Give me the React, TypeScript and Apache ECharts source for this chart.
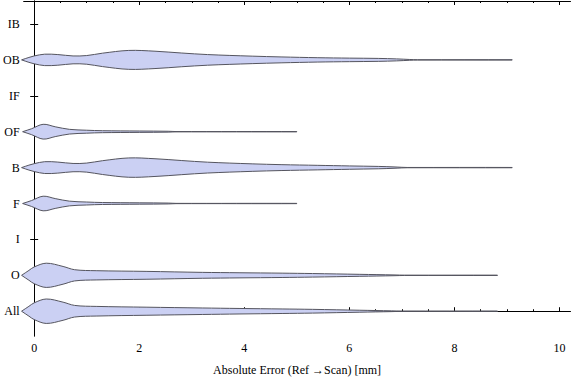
import React, { useEffect, useRef } from "react";
import * as echarts from "echarts";

// Categories bottom to top
const categories = ["All", "O", "I", "F", "B", "OF", "IF", "OB", "IB"];

// Violin profiles: error positions [mm] and estimated half-width densities (relative)
const allX = [-0.24, -0.1, 0.0, 0.23, 0.55, 0.77, 1.18, 2.13, 3.2, 3.9, 4.72, 5.3, 6.2, 6.8, 6.98, 8.82];
const allD = [0, 5, 8.5, 12.4, 9.2, 5.9, 4.9, 4.1, 3.3, 2.8, 2.3, 1.9, 1.0, 0.4, 0.15, 0.15];

const oX = [-0.24, -0.1, 0.0, 0.23, 0.55, 0.77, 1.18, 2.13, 3.2, 3.9, 4.72, 5.3, 6.2, 6.85, 7.05, 8.82];
const oD = [0, 5, 8.5, 12.3, 9.0, 5.7, 4.7, 4.0, 3.0, 2.6, 2.2, 1.8, 1.0, 0.4, 0.15, 0.15];

const fX = [-0.22, -0.05, 0.17, 0.4, 0.67, 1.0, 1.3, 2.0, 2.55, 2.7, 5.0];
const fD = [0, 3, 7.4, 5, 2.4, 1.5, 1.0, 0.7, 0.45, 0.15, 0.15];

const bX = [-0.24, -0.1, 0, 0.2, 0.45, 0.74, 1.0, 1.3, 1.8, 2.3, 2.8, 3.3, 4.15, 4.7, 5.4, 6.0, 6.55, 6.85, 7.0, 7.1, 9.1];
const bD = [0, 2.5, 4, 6, 5.6, 4.2, 4.6, 7, 9.8, 9, 7.2, 5.5, 3.8, 3.0, 2.3, 1.7, 1.2, 0.7, 0.3, 0.15, 0.15];

const ofX = [-0.22, -0.05, 0.17, 0.4, 0.67, 1.0, 1.3, 2.0, 2.55, 2.7, 5.0];
const ofD = [0, 3, 7.5, 5, 2.4, 1.5, 1.0, 0.7, 0.45, 0.15, 0.15];

const obX = [-0.24, -0.1, 0.0, 0.2, 0.45, 0.74, 1.0, 1.3, 1.8, 2.3, 2.8, 3.3, 4.15, 4.7, 5.4, 6.0, 6.55, 6.9, 7.15, 7.3, 9.1];
const obD = [0, 2.5, 4, 5.8, 5.4, 4.0, 4.4, 6.8, 9.6, 8.8, 7.0, 5.4, 3.8, 3.0, 2.2, 1.8, 1.5, 1.0, 0.4, 0.15, 0.15];

const profiles: Record<string, { x: number[]; d: number[] } | null> = {
  All: { x: allX, d: allD },
  O: { x: oX, d: oD },
  I: null,
  F: { x: fX, d: fD },
  B: { x: bX, d: bD },
  OF: { x: ofX, d: ofD },
  IF: null,
  OB: { x: obX, d: obD },
  IB: null,
};

const xMajorTicks = [0, 2, 4, 6, 8, 10];
const xMinorTicks = [0.5, 1, 1.5, 2.5, 3, 3.5, 4.5, 5, 5.5, 6.5, 7, 7.5, 8.5, 9, 9.5];

const FONT = "'Liberation Serif', 'Times New Roman', 'DejaVu Serif', serif";
const DENSITY_SCALE = 1 / 36.45; // density units -> category units

export default function App() {
  const ref = useRef<HTMLDivElement>(null);
  useEffect(() => {
    if (!ref.current) return;
    const chart = echarts.init(ref.current, null, { renderer: "svg" });
    const catIdx = categories.map((_, i) => i);
    const xMin = -0.2;
    const xMax = 10.21;
    const yMin = -0.69;
    const yMax = 8.64;
    const axisLineStyle = { color: "#000", width: 1 };
    const baseX = {
      type: "value" as const,
      min: xMin,
      max: xMax,
      splitLine: { show: false },
    };
    const baseY = {
      type: "value" as const,
      min: yMin,
      max: yMax,
      splitLine: { show: false },
    };
    const option: any = {
      animation: false,
      grid: { left: 20.5, top: 1, width: 550, height: 340, containLabel: false },
      xAxis: [
        {
          ...baseX,
          position: "bottom",
          axisLine: { show: true, lineStyle: axisLineStyle },
          axisTick: { show: true, inside: true, length: 4, customValues: xMajorTicks, lineStyle: axisLineStyle },
          axisLabel: {
            show: true,
            customValues: xMajorTicks,
            color: "#000",
            fontFamily: FONT,
            fontSize: 12,
            margin: 6,
          },
          name: "Absolute Error (Ref \u2192Scan) [mm]",
          nameLocation: "middle",
          nameGap: 28,
          nameTextStyle: { color: "#000", fontFamily: FONT, fontSize: 12 },
        },
        {
          ...baseX,
          position: "bottom",
          axisLine: { show: false },
          axisTick: { show: true, inside: true, length: 2, customValues: xMinorTicks, lineStyle: axisLineStyle },
          axisLabel: { show: false },
        },
        {
          ...baseX,
          position: "top",
          axisLine: { show: true, lineStyle: axisLineStyle },
          axisTick: { show: true, inside: true, length: 4, customValues: xMajorTicks, lineStyle: axisLineStyle },
          axisLabel: { show: false },
        },
        {
          ...baseX,
          position: "top",
          axisLine: { show: false },
          axisTick: { show: true, inside: true, length: 2, customValues: xMinorTicks, lineStyle: axisLineStyle },
          axisLabel: { show: false },
        },
      ],
      yAxis: [
        {
          ...baseY,
          position: "left",
          axisLine: { show: true, lineStyle: axisLineStyle },
          axisTick: { show: true, inside: true, length: 4, customValues: catIdx, lineStyle: axisLineStyle },
          axisLabel: {
            show: true,
            customValues: catIdx,
            formatter: (v: number) => categories[Math.round(v)] ?? "",
            color: "#000",
            fontFamily: FONT,
            fontSize: 12,
            margin: 4,
          },
        },
        {
          ...baseY,
          position: "right",
          axisLine: { show: true, lineStyle: axisLineStyle },
          axisTick: { show: true, inside: true, length: 4, customValues: catIdx, lineStyle: axisLineStyle },
          axisLabel: { show: false },
        },
      ],
      series: [
        {
          type: "custom",
          xAxisIndex: 0,
          yAxisIndex: 0,
          clip: false,
          data: catIdx.map((i) => [0, i]),
          renderItem: (params: any, api: any) => {
            const idx = api.value(1);
            const prof = profiles[categories[idx]];
            if (!prof) return null;
            const upper: number[][] = [];
            const lower: number[][] = [];
            for (let k = 0; k < prof.x.length; k++) {
              const h = prof.d[k] * DENSITY_SCALE;
              upper.push(api.coord([prof.x[k], idx + h]));
              lower.push(api.coord([prof.x[k], idx - h]));
            }
            const points = upper.concat(lower.reverse());
            return {
              type: "polygon",
              shape: { points, smooth: 0.35 },
              style: {
                fill: "#cbd0f3",
                stroke: "#55555f",
                lineWidth: 1,
              },
            };
          },
        },
      ],
    };
    chart.setOption(option);
    return () => chart.dispose();
  }, []);
  return (
    <div
      ref={ref}
      style={{ position: "absolute", left: 0, top: 0, width: 576, height: 381 }}
    />
  );
}
